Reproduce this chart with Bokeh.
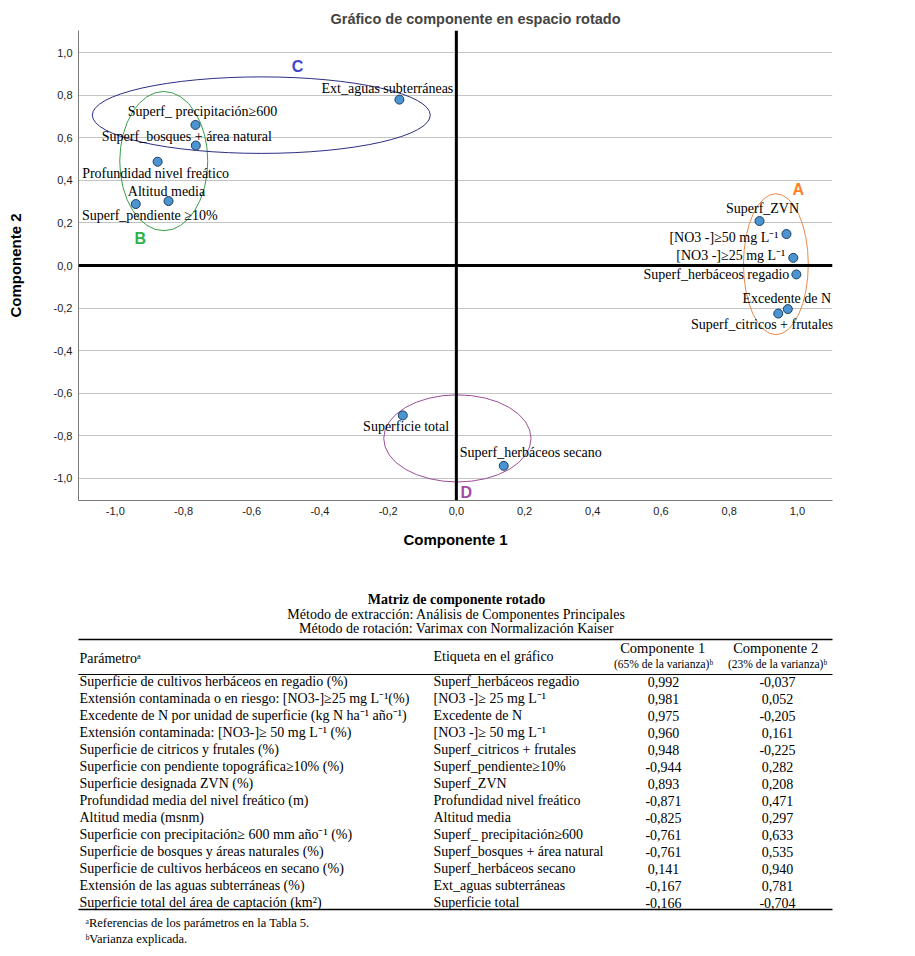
from bokeh.plotting import figure
from bokeh.models import ColumnDataSource, Range1d, FixedTicker, Span
from bokeh.layouts import column
from bokeh.embed import file_html
from bokeh.resources import INLINE
from bokeh.core.properties import value

# ---------------- data: scatter (positions) ----------------
plot_labels = ["Superf_herbáceos regadio", "[NO3 -]≥25 mg L⁻¹", "Excedente de N",
               "[NO3 -]≥50 mg L⁻¹", "Superf_citricos + frutales", "Superf_pendiente ≥10%",
               "Superf_ZVN", "Profundidad nivel freático", "Altitud media",
               "Superf_ precipitación≥600", "Superf_bosques + área natural",
               "Superf_herbáceos secano", "Ext_aguas subterráneas", "Superficie  total"]
plot_c1 = [0.997, 0.988, 0.972, 0.968, 0.944, -0.940, 0.889, -0.876, -0.844,
           -0.765, -0.764, 0.139, -0.167, -0.157]
plot_c2 = [-0.042, 0.036, -0.205, 0.148, -0.226, 0.289, 0.209, 0.488, 0.303,
           0.661, 0.564, -0.942, 0.780, -0.705]

# group ellipses
groups = ["A", "B", "C", "D"]
ell_x = [0.937, -0.858, -0.572, 0.003]
ell_y = [0.006, 0.491, 0.707, -0.813]
ell_w = [0.19, 0.258, 0.991, 0.432]
ell_h = [0.663, 0.655, 0.36, 0.41]
letter_x = [1.003, -0.927, -0.466, 0.029]
letter_y = [0.356, 0.126, 0.934, -1.069]

tick_vals = [-1.0, -0.8, -0.6, -0.4, -0.2, 0.0, 0.2, 0.4, 0.6, 0.8, 1.0]
tick_text = ["-1,0", "-0,8", "-0,6", "-0,4", "-0,2", "0,0", "0,2", "0,4", "0,6", "0,8", "1,0"]

# ---------------- data: table ----------------
parametros = [
    "Superficie de cultivos herbáceos en regadio (%)",
    "Extensión contaminada o en riesgo: [NO3-]≥25 mg L⁻¹(%)",
    "Excedente de N por unidad de superficie (kg N ha⁻¹ año⁻¹)",
    "Extensión contaminada: [NO3-]≥ 50 mg L⁻¹  (%)",
    "Superficie de citricos y frutales (%)",
    "Superficie con pendiente topográfica≥10% (%)",
    "Superficie designada ZVN (%)",
    "Profundidad media del nivel freático (m)",
    "Altitud media (msnm)",
    "Superficie con precipitación≥ 600 mm año⁻¹ (%)",
    "Superficie de bosques y áreas naturales (%)",
    "Superficie de cultivos herbáceos en secano (%)",
    "Extensión de las aguas subterráneas (%)",
    "Superficie  total del área de captación (km²)",
]
etiquetas = [
    "Superf_herbáceos regadio", "[NO3 -]≥ 25 mg L⁻¹", "Excedente de N",
    "[NO3 -]≥ 50 mg L⁻¹", "Superf_citricos + frutales", "Superf_pendiente≥10%",
    "Superf_ZVN", "Profundidad nivel freático", "Altitud media",
    "Superf_ precipitación≥600", "Superf_bosques + área natural",
    "Superf_herbáceos secano", "Ext_aguas subterráneas", "Superficie  total",
]
comp1 = [0.992, 0.981, 0.975, 0.960, 0.948, -0.944, 0.893, -0.871, -0.825,
         -0.761, -0.761, 0.141, -0.167, -0.166]
comp2 = [-0.037, 0.052, -0.205, 0.161, -0.225, 0.282, 0.208, 0.471, 0.297,
         0.633, 0.535, 0.940, 0.781, -0.704]

# ---------------- styles ----------------
lab_align = ["right", "right", "center", "right", "center", "center", "center",
             "center", "center", "center", "center", "center", "center", "center"]
lab_dx = [-7, -8, -1, -8, -16, 14, 3, -2, -2, 7, -9, 27, -12, 5]
lab_dy = [0, -2, -11, 3, 11, 11, -13, 12, -10, -13, -9, -13, -11, 11]
ell_line = ["#e8894a", "#3a9e48", "#2b2f80", "#9a4f9a"]
letter_col = ["#ff7f27", "#2db34a", "#3f48cc", "#a349a4"]

SANS = "Liberation Sans"
SERIF = "Liberation Serif"

W = 910
FL, FR = 78, 832          # frame left/right on the page
H1 = 568
p = figure(width=W, height=H1, x_range=Range1d(-1.108, 1.103), y_range=Range1d(-1.105, 1.105),
           output_backend="svg", toolbar_location=None,
           min_border_left=FL, min_border_right=W - FR, min_border_top=30,
           min_border_bottom=H1 - 500)
p.outline_line_color = None
p.title.text = "Gráfico de componente en espacio rotado"
p.title.align = "left"
p.title.offset = 330 - FL
p.title.text_font = SANS
p.title.text_font_size = "14.5px"
p.title.text_font_style = "bold"
p.title.standoff = 8

for ax in (p.xaxis[0], p.yaxis[0]):
    ax.ticker = FixedTicker(ticks=tick_vals)
    ax.major_label_overrides = {v: t for v, t in zip(tick_vals, tick_text)}
    ax.major_tick_out = 0
    ax.major_tick_in = 0
    ax.minor_tick_out = 0
    ax.minor_tick_in = 0
    ax.axis_line_color = "#7a7a7a"
    ax.major_label_text_font = SANS
    ax.major_label_text_font_size = "11px"
    ax.major_label_text_color = "#222222"
    ax.axis_label_text_font = SANS
    ax.axis_label_text_font_size = "15px"
    ax.axis_label_text_font_style = "bold"
    ax.axis_label_text_color = "black"
p.xaxis.axis_label = "Componente 1"
p.yaxis.axis_label = "Componente 2"
p.xaxis.major_label_standoff = 6
p.yaxis.major_label_standoff = 6
p.xaxis.axis_label_standoff = 13
p.yaxis.axis_label_standoff = 27

p.xgrid.visible = False
p.ygrid.ticker = FixedTicker(ticks=tick_vals)
p.ygrid.grid_line_color = "#c4c4c4"
p.ygrid.grid_line_width = 1

p.add_layout(Span(location=0, dimension="width", line_color="black", line_width=3))
p.add_layout(Span(location=0, dimension="height", line_color="black", line_width=3))

esrc = ColumnDataSource(dict(x=ell_x, y=ell_y, w=ell_w, h=ell_h, c=ell_line,
                             lx=letter_x, ly=letter_y, g=groups, lc=letter_col))
p.ellipse(x="x", y="y", width="w", height="h", fill_alpha=0, line_color="c",
          line_width=1, source=esrc)
p.text(x="lx", y="ly", text="g", text_color="lc", text_font=value(SANS),
       text_font_size="16px", text_font_style="bold", text_align="center",
       text_baseline="middle", source=esrc)

src = ColumnDataSource(dict(x=plot_c1, y=plot_c2, t=plot_labels))
p.scatter(x="x", y="y", size=9, fill_color="#4a94d4", line_color="#1f3f5f",
          line_width=1, source=src)

for align in ("right", "center"):
    idx = [i for i, a in enumerate(lab_align) if a == align]
    s = ColumnDataSource(dict(x=[plot_c1[i] for i in idx], y=[plot_c2[i] for i in idx],
                              t=[plot_labels[i] for i in idx],
                              dx=[lab_dx[i] for i in idx], dy=[lab_dy[i] for i in idx]))
    p.text(x="x", y="y", text="t", x_offset="dx", y_offset="dy", text_align=align,
           text_baseline="middle", text_font=value(SERIF), text_font_size="14px",
           text_color="black", source=s)

# ---------------- table (data coords = page pixels) ----------------
TH = 386
t = figure(width=W, height=TH, x_range=Range1d(FL, FR), y_range=Range1d(H1 + TH, H1),
           output_backend="svg", toolbar_location=None,
           min_border_left=FL, min_border_right=W - FR, min_border_top=0, min_border_bottom=0,
           x_axis_location=None, y_axis_location=None)
t.outline_line_color = None
t.grid.visible = False

def txt(x, y, s, size="14px", align="left", style="normal"):
    t.text(x=[x], y=[y], text=[s], text_font=value(SERIF), text_font_size=size,
           text_align=align, text_baseline="middle", text_font_style=style,
           text_color="black")

txt(456, 599, "Matriz de componente rotado", align="center", style="bold")
txt(456, 614, "Método de extracción: Análisis de Componentes Principales", align="center")
txt(456, 628, "Método de rotación: Varimax con Normalización Kaiser", align="center")

t.segment(x0=[72, 72, 72], y0=[639, 674, 909], x1=[837, 837, 837], y1=[639, 674, 909],
          line_color="black", line_width=[1.6, 1.2, 1.6])

txt(79, 658, "Parámetroᵃ")
txt(433, 656, "Etiqueta en el gráfico")
txt(664, 647, "Componente  1", size="14.5px", align="center")
txt(663, 663, "(65% de la varianza)ᵇ", size="11.5px", align="center")
txt(777, 647, "Componente  2", size="14.5px", align="center")
txt(777, 663, "(23% de la varianza)ᵇ", size="11.5px", align="center")

row_y = [681 + 17 * i for i in range(len(parametros))]
fmt = lambda v: f"{v:.3f}".replace(".", ",")
n = len(row_y)
tsrc = ColumnDataSource(dict(y=row_y, par=parametros, eti=etiquetas,
                             c1=[fmt(v) for v in comp1], c2=[fmt(v) for v in comp2],
                             xp=[79] * n, xe=[433] * n, x1=[663] * n, x2=[777] * n))
common = dict(text_font=value(SERIF), text_font_size="14px", text_baseline="middle",
              text_color="black", source=tsrc)
t.text(x="xp", y="y", text="par", text_align="left", **common)
t.text(x="xe", y="y", text="eti", text_align="left", **common)
t.text(x="x1", y="y", text="c1", text_align="center", **common)
t.text(x="x2", y="y", text="c2", text_align="center", **common)

txt(85, 922, "ᵃReferencias de los parámetros en la Tabla 5.", size="12.5px")
txt(85, 938, "ᵇVarianza explicada.", size="12.5px")

layout = column(p, t, spacing=0)
open("out.html", "w").write(file_html(layout, INLINE))
